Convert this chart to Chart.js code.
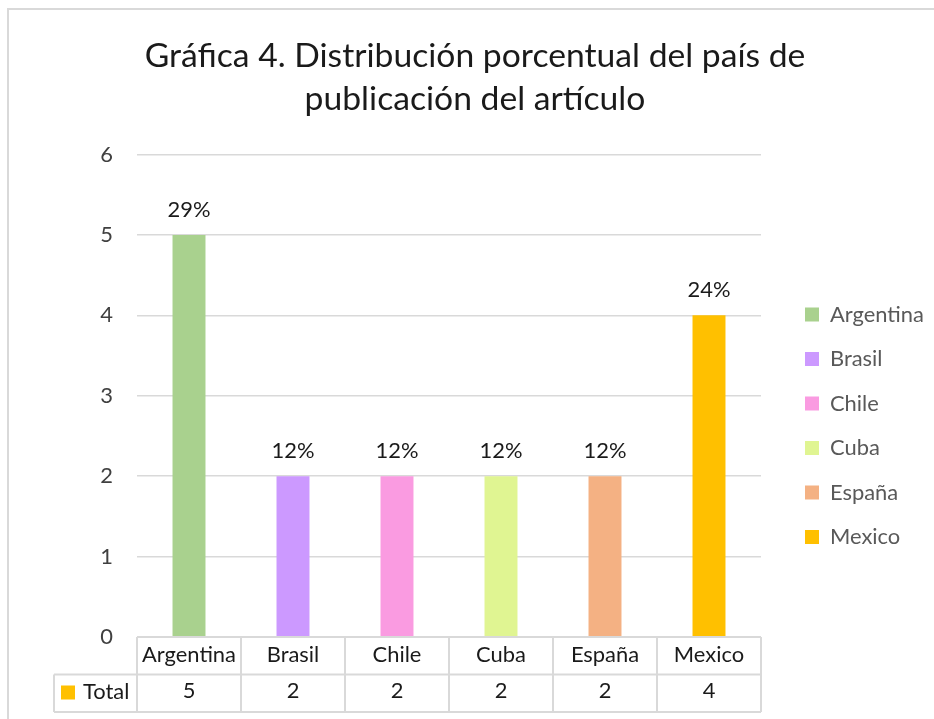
<!DOCTYPE html>
<html>
<head>
<meta charset="utf-8">
<script src="https://cdn.jsdelivr.net/npm/chart.js@4.4.1/dist/chart.umd.min.js"></script>
<style>
html,body{margin:0;padding:0;background:#fff;}
#wrap{width:934px;height:719px;position:relative;}
</style>
</head>
<body>
<div id="wrap"><canvas id="c" width="934" height="719"></canvas></div>
<script>
// ---- data ----
const categories = ['Argentina', 'Brasil', 'Chile', 'Cuba', 'España', 'Mexico'];
const totals = [5, 2, 2, 2, 2, 4];
const percentLabels = ['29%', '12%', '12%', '12%', '12%', '24%'];
const yTicks = [0, 1, 2, 3, 4, 5, 6];
const seriesName = 'Total';
const titleLines = ['Gráfica 4. Distribución porcentual del país de', 'publicación del artículo'];
const barColors = ['#A9D18E', '#CC99FF', '#FA9BE1', '#E0F592', '#F4B183', '#FFC000'];

// ---- fonts / sizing ----
const FONT = 'Lato, "Open Sans", sans-serif';
const mctx = document.createElement('canvas').getContext('2d');
function measure(t, size) { mctx.font = size + 'px ' + FONT; return mctx.measureText(t).width; }
const titleSize = 30 * 661 / measure(titleLines[0], 30);
const labelSize = 19 * 94 / measure('Argentina', 19);
const tickSize = labelSize;

const AREA_LEFT = 137, AREA_RIGHT = 761;
const LEG_SPACING = 44.5;
const LEG_PAD = LEG_SPACING - labelSize, BOX = 14;
const legendBoxLeft = 805;
const maxLegendW = Math.max(...categories.map(c => measure(c, labelSize)));
const legendW = LEG_PAD + BOX + labelSize / 2 + maxLegendW + 10;
const legendLeft = legendBoxLeft - LEG_PAD;
const PADR = 934 - legendLeft - legendW;
const PADL = 2 * 475 - 934 + PADR;
const GAP = legendLeft - AREA_RIGHT;
const ROW_H = 37.5;

const framePlugin = {
  id: 'frame',
  beforeDraw(chart) {
    const c = chart.ctx;
    c.save();
    c.fillStyle = '#fff';
    c.fillRect(0, 0, chart.width, chart.height);
    c.strokeStyle = '#D9D9D9';
    c.lineWidth = 2;
    c.beginPath();
    c.moveTo(8, chart.height);
    c.lineTo(8, 9);
    c.lineTo(chart.width, 9);
    c.stroke();
    c.restore();
  }
};

const labelsPlugin = {
  id: 'pctLabels',
  afterDatasetsDraw(chart) {
    const c = chart.ctx;
    const meta = chart.getDatasetMeta(0);
    c.save();
    c.font = labelSize + 'px ' + FONT;
    c.fillStyle = '#1a1a1a';
    c.textAlign = 'center';
    c.textBaseline = 'middle';
    meta.data.forEach((bar, i) => {
      c.fillText(percentLabels[i], bar.x, bar.y - 25);
    });
    c.restore();
  }
};

const tablePlugin = {
  id: 'dataTable',
  afterDraw(chart) {
    const c = chart.ctx;
    const xs = chart.scales.x;
    const a = chart.chartArea;
    const n = categories.length;
    const w = (a.right - a.left) / n;
    const top = a.bottom, mid = a.bottom + ROW_H, bot = a.bottom + 2 * ROW_H;
    const tableLeft = 54;
    c.save();
    c.strokeStyle = '#D9D9D9';
    c.lineWidth = 2;
    c.beginPath();
    c.moveTo(a.left, top); c.lineTo(a.right, top);
    c.moveTo(tableLeft, mid); c.lineTo(a.right, mid);
    c.moveTo(tableLeft, bot); c.lineTo(a.right, bot);
    for (let i = 0; i <= n; i++) {
      const xx = i === n ? xs.getPixelForValue(n - 1) + w / 2 : xs.getPixelForValue(i) - w / 2;
      c.moveTo(xx, top); c.lineTo(xx, bot);
    }
    c.moveTo(tableLeft, mid); c.lineTo(tableLeft, bot);
    c.stroke();
    // legend key + series name
    c.fillStyle = barColors[barColors.length - 1];
    c.fillRect(61, mid + 11, 14, 14);
    c.fillStyle = '#1a1a1a';
    c.font = labelSize + 'px ' + FONT;
    c.textAlign = 'left';
    c.textBaseline = 'middle';
    c.fillText(seriesName, 83, mid + 17);
    c.restore();
  }
};

new Chart(document.getElementById('c'), {
  type: 'bar',
  data: {
    labels: categories,
    datasets: [{
      label: seriesName,
      data: totals,
      backgroundColor: barColors,
      borderWidth: 0,
      categoryPercentage: 1,
      barPercentage: 0.317
    }]
  },
  options: {
    responsive: false,
    devicePixelRatio: 1,
    animation: false,
    layout: { padding: { left: PADL, right: PADR, top: 0, bottom: 7 } },
    plugins: {
      title: {
        display: true,
        text: titleLines,
        color: '#1a1a1a',
        font: { family: FONT, size: titleSize, weight: 'normal', lineHeight: 43 / titleSize },
        padding: { top: 35, bottom: 33.5 }
      },
      legend: {
        position: 'right',
        align: 'center',
        onClick: null,
        title: { display: true, text: ' ', font: { size: 12, lineHeight: 1.2 }, padding: { top: 125, bottom: 0 } },
        labels: {
          font: { family: FONT, size: labelSize },
          color: '#595959',
          boxWidth: BOX,
          boxHeight: BOX,
          padding: LEG_PAD,
          generateLabels: () => categories.map((cat, i) => ({
            text: cat, fillStyle: barColors[i], strokeStyle: barColors[i],
            lineWidth: 0, hidden: false, index: i, fontColor: '#595959'
          }))
        }
      },
      tooltip: { enabled: false }
    },
    scales: {
      x: {
        grid: { display: false, drawTicks: false },
        border: { display: false },
        ticks: {
          autoSkip: false, maxRotation: 0, padding: 0, color: '#1a1a1a',
          font: { family: FONT, size: tickSize, lineHeight: 36 / tickSize },
          callback: (v, i) => [categories[i], String(totals[i])]
        },
        afterFit: s => { s.height = 75; }
      },
      y: {
        min: 0, max: 6,
        grid: { color: '#D9D9D9', lineWidth: 1.5, drawTicks: false },
        border: { display: false },
        ticks: { color: '#404040', padding: 24, font: { family: FONT, size: tickSize } },
        afterBuildTicks: s => { s.ticks = yTicks.map(v => ({ value: v })); },
        afterFit: s => { s.width = AREA_LEFT - PADL; }
      },
      gap: {
        axis: 'y', position: 'right', display: true,
        grid: { display: false, drawTicks: false },
        border: { display: false },
        ticks: { display: false },
        afterFit: s => { s.width = GAP; }
      }
    }
  },
  plugins: [framePlugin, labelsPlugin, tablePlugin]
});
</script>
</body>
</html>
